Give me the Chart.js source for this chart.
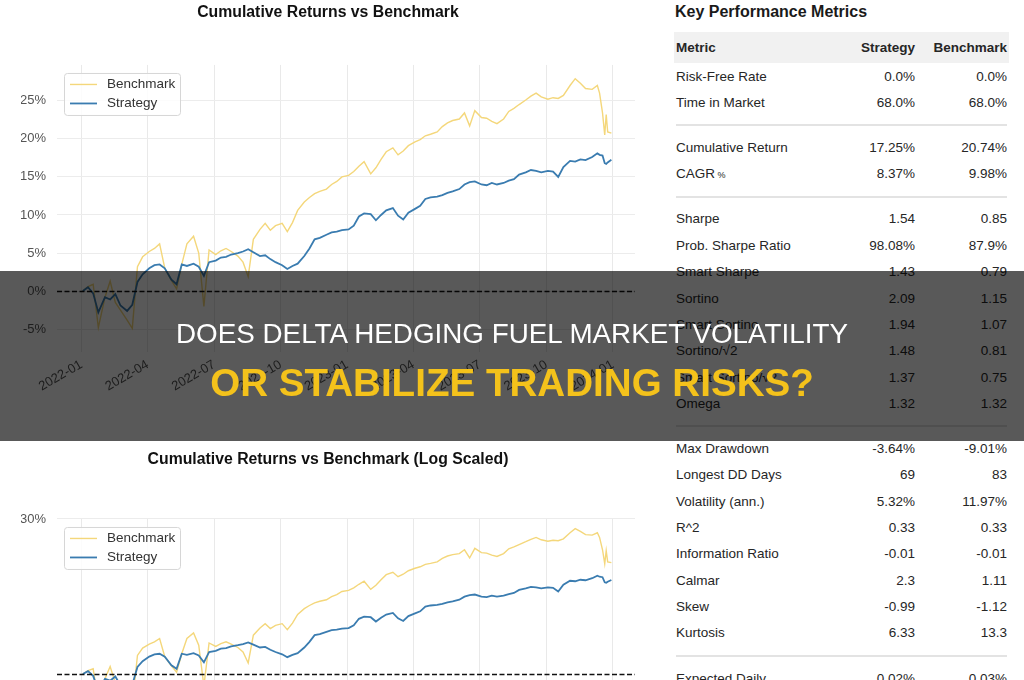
<!DOCTYPE html>
<html lang="en">
<head>
<meta charset="UTF-8">
<title>Cumulative Returns vs Benchmark</title>
<script src="https://cdn.jsdelivr.net/npm/chart.js"></script>
<style>
body {
    margin: 0;
    width: 1024px;
    height: 680px;
    overflow: hidden;
    position: relative;
    background: #fff;
    font-family: "Liberation Sans", Arial, sans-serif;
}
canvas { position: absolute; left: 21px; }
#topChart { top: 0; }
#logChart { top: 440px; }
#metrics { position: absolute; left: 674px; top: 0; width: 335px; color: #262626; font-size: 13.5px; }
#metrics h2 { margin: 0; position: absolute; left: 1px; top: 1.5px; font-size: 16px; line-height: 20px; color: #1a1a1a; }
#rows { position: absolute; left: 0; top: 32px; width: 335px; }
.row { display: flex; height: 26.35px; line-height: 26.35px; white-space: nowrap; }
.row .name { flex: 1; padding-left: 2px; }
.row .s { width: 110px; text-align: right; }
.row .b { width: 92px; text-align: right; padding-right: 2px; }
.row.head { height: 31px; line-height: 32px; background: #f1f1f1; font-weight: bold; margin-bottom: 0.5px; }
.gap { height: 18.8px; position: relative; }
.gap::after { content: ""; position: absolute; left: 2px; right: 2px; top: 8px; height: 2px; background: #e3e3e3; }
.row small { font-size: 9px; }
#band { position: absolute; left: 0; top: 271px; width: 1024px; height: 170px; background: rgba(0,0,0,0.65); z-index: 5; }
#band div { position: absolute; left: 0; width: 1024px; text-align: center; white-space: nowrap; }
#line1 { top: 48px; height: 30px; line-height: 30px; font-size: 27.8px; color: #fff; }
#line2 { top: 92px; height: 40px; line-height: 40px; font-size: 38.6px; font-weight: bold; color: #f4c21b; }
</style>
</head>
<body>

<canvas id="topChart" width="640" height="422"></canvas>
<canvas id="logChart" width="640" height="436"></canvas>

<div id="metrics">
    <h2>Key Performance Metrics</h2>
    <div id="rows"></div>
</div>

<div id="band">
    <div id="line1">DOES DELTA HEDGING FUEL MARKET VOLATILITY</div>
    <div id="line2">OR STABILIZE TRADING RISKS?</div>
</div>

<script>
// weekly observation dates (last month has a few extra points for the late drop)
const dates = [
    '2022-01-03','2022-01-10','2022-01-17','2022-01-24',
    '2022-02-03','2022-02-10','2022-02-17','2022-02-24',
    '2022-03-03','2022-03-10','2022-03-17','2022-03-24',
    '2022-04-03','2022-04-10','2022-04-17','2022-04-24',
    '2022-05-03','2022-05-10','2022-05-17','2022-05-24',
    '2022-06-03','2022-06-10','2022-06-17','2022-06-24',
    '2022-07-03','2022-07-10','2022-07-17','2022-07-24',
    '2022-08-03','2022-08-10','2022-08-17','2022-08-24',
    '2022-09-03','2022-09-10','2022-09-17','2022-09-24',
    '2022-10-03','2022-10-10','2022-10-17','2022-10-24',
    '2022-11-03','2022-11-10','2022-11-17','2022-11-24',
    '2022-12-03','2022-12-10','2022-12-17','2022-12-24',
    '2023-01-03','2023-01-10','2023-01-17','2023-01-24',
    '2023-02-03','2023-02-10','2023-02-17','2023-02-24',
    '2023-03-03','2023-03-10','2023-03-17','2023-03-24',
    '2023-04-03','2023-04-10','2023-04-17','2023-04-24',
    '2023-05-03','2023-05-10','2023-05-17','2023-05-24',
    '2023-06-03','2023-06-10','2023-06-17','2023-06-24',
    '2023-07-03','2023-07-10','2023-07-17','2023-07-24',
    '2023-08-03','2023-08-10','2023-08-17','2023-08-24',
    '2023-09-03','2023-09-10','2023-09-17','2023-09-24',
    '2023-10-03','2023-10-10','2023-10-17','2023-10-24',
    '2023-11-03','2023-11-10','2023-11-17','2023-11-24',
    '2023-12-03','2023-12-10','2023-12-13','2023-12-17','2023-12-20','2023-12-22','2023-12-24','2023-12-29'
];

// cumulative returns in %
const strategy = [
    0.0, 0.5, -0.3, -2.8,
    -0.8, -1.1, -0.4, -1.9,
    -2.6, -1.8, 1.2, 2.2,
    3.0, 3.4, 3.5, 3.0,
    1.5, 0.9, 3.5, 3.3,
    3.6, 3.2, 2.0, 3.8,
    4.0, 4.4, 4.5, 4.8,
    5.0, 5.2, 5.5, 5.1,
    4.6, 4.7, 4.2, 3.8,
    3.4, 2.9, 3.3, 3.6,
    4.6, 5.6, 6.8, 7.0,
    7.4, 7.7, 7.8, 8.0,
    8.1, 8.6, 9.8, 10.2,
    10.1, 9.3, 10.0, 10.6,
    10.9, 9.9, 9.4, 10.3,
    10.8, 11.2, 12.1, 12.3,
    12.4, 12.6, 12.9, 13.1,
    13.4, 14.0, 14.3, 14.4,
    14.0, 13.9, 14.2, 14.0,
    14.2, 14.5, 14.7, 15.3,
    15.6, 15.9, 15.8, 15.6,
    15.8, 15.7, 15.0, 16.3,
    17.1, 17.0, 17.3, 17.2,
    17.6, 18.1, 17.9, 17.8, 16.8, 16.7, 16.9, 17.25
];

const benchmark = [
    0.0, 0.6, 0.9, -4.8,
    -0.8, 1.3, -1.5, -2.5,
    -3.8, -4.9, 3.2, 4.5,
    5.2, 5.6, 6.2, 3.0,
    1.4, 0.3, 3.5, 6.2,
    7.2, 5.0, -2.0, 5.4,
    4.8, 5.3, 5.6, 5.2,
    4.6, 3.8, 1.9, 6.8,
    8.1, 8.9, 8.0, 8.6,
    8.9, 7.8, 9.0, 10.6,
    11.7, 12.3, 12.8, 13.1,
    13.4, 14.0, 14.4, 15.0,
    15.2, 15.7, 16.4, 17.0,
    15.4, 16.2, 17.3, 18.3,
    18.8, 17.9, 18.4, 19.1,
    19.6, 19.9, 20.4, 20.6,
    20.9, 21.6, 22.1, 22.4,
    22.6, 23.4, 21.7, 23.7,
    22.8, 22.7, 22.3, 22.0,
    22.6, 23.6, 24.0, 24.5,
    25.1, 25.6, 26.0, 25.5,
    25.2, 25.4, 25.3, 25.7,
    27.0, 27.9, 27.3, 26.6,
    26.5, 27.0, 26.0, 23.4, 20.5, 23.2, 20.9, 20.74
];

// x ticks = months since 2022-01, quarterly
const quarterTicks = [0, 3, 6, 9, 12, 15, 18, 21, 24];
const pctTicks = [-5, 0, 5, 10, 15, 20, 25];
const logPctTicks = [30];

const metrics = [
    [['Risk-Free Rate', '0.0%', '0.0%'], ['Time in Market', '68.0%', '68.0%']],
    [['Cumulative Return', '17.25%', '20.74%'], ['CAGR<small> %</small>', '8.37%', '9.98%']],
    [['Sharpe', '1.54', '0.85'], ['Prob. Sharpe Ratio', '98.08%', '87.9%'], ['Smart Sharpe', '1.43', '0.79'],
     ['Sortino', '2.09', '1.15'], ['Smart Sortino', '1.94', '1.07'], ['Sortino/√2', '1.48', '0.81'],
     ['Smart Sortino/√2', '1.37', '0.75'], ['Omega', '1.32', '1.32']],
    [['Max Drawdown', '-3.64%', '-9.01%'], ['Longest DD Days', '69', '83'], ['Volatility (ann.)', '5.32%', '11.97%'],
     ['R^2', '0.33', '0.33'], ['Information Ratio', '-0.01', '-0.01'], ['Calmar', '2.3', '1.11'],
     ['Skew', '-0.99', '-1.12'], ['Kurtosis', '6.33', '13.3']],
    [['Expected Daily', '0.02%', '0.03%']]
];

// metrics table
let html = '<div class="row head"><span class="name">Metric</span><span class="s">Strategy</span><span class="b">Benchmark</span></div>';
metrics.forEach((group, gi) => {
    if (gi > 0) html += '<div class="gap"></div>';
    group.forEach(r => {
        html += '<div class="row"><span class="name">' + r[0] + '</span><span class="s">' + r[1] + '</span><span class="b">' + r[2] + '</span></div>';
    });
});
document.getElementById('rows').innerHTML = html;

Chart.defaults.font.family = '"Liberation Sans", Arial, sans-serif';
Chart.defaults.font.size = 13;
Chart.defaults.color = '#555';

function monthIndex(d) {
    const [y, m, day] = d.split('-').map(Number);
    return (y - 2022) * 12 + (m - 1) + (day - 1) / 30;
}

function toPoints(values, asLog) {
    return values.map((v, i) => ({ x: monthIndex(dates[i]), y: asLog ? 1 + v / 100 : v }));
}

function monthLabel(v) {
    const y = 2022 + Math.floor(v / 12);
    const m = v % 12 + 1;
    return y + '-' + String(m).padStart(2, '0');
}

// dashed horizontal line at zero return
const zeroLine = {
    id: 'zeroLine',
    afterDatasetsDraw(chart, args, opts) {
        const { ctx, chartArea, scales } = chart;
        const y = Math.round(scales.y.getPixelForValue(opts.value)) + 0.5;
        ctx.save();
        ctx.strokeStyle = '#111';
        ctx.lineWidth = 1.5;
        ctx.setLineDash([5, 2.5]);
        ctx.beginPath();
        ctx.moveTo(chartArea.left, y);
        ctx.lineTo(chartArea.right, y);
        ctx.stroke();
        ctx.restore();
    }
};

// matplotlib-like legend box in the upper left of the plot
const legendBox = {
    id: 'legendBox',
    afterDatasetsDraw(chart) {
        const { ctx, chartArea } = chart;
        const x = chartArea.left + 7, y = chartArea.top + 8;
        ctx.save();
        ctx.fillStyle = 'rgba(255,255,255,0.85)';
        ctx.strokeStyle = '#d6d6d6';
        ctx.lineWidth = 1;
        ctx.beginPath();
        ctx.roundRect(x + 0.5, y + 0.5, 116, 42, 3);
        ctx.fill();
        ctx.stroke();
        ctx.font = '13.5px "Liberation Sans", Arial, sans-serif';
        ctx.textBaseline = 'middle';
        chart.data.datasets.forEach((ds, i) => {
            const cy = y + 11.5 + i * 19;
            ctx.strokeStyle = ds.borderColor;
            ctx.lineWidth = ds.borderWidth;
            ctx.beginPath();
            ctx.moveTo(x + 6, cy);
            ctx.lineTo(x + 33, cy);
            ctx.stroke();
            ctx.fillStyle = '#333';
            ctx.fillText(ds.label, x + 43, cy);
        });
        ctx.restore();
    }
};

function makeChart(id, title, titlePad, asLog, yOpts, yTicks) {
    return new Chart(document.getElementById(id).getContext('2d'), {
        type: 'line',
        data: {
            datasets: [{
                label: 'Benchmark',
                data: toPoints(benchmark, asLog),
                borderColor: '#f4d77b',
                borderWidth: 1.4,
                pointRadius: 0,
                order: 2
            }, {
                label: 'Strategy',
                data: toPoints(strategy, asLog),
                borderColor: '#3a7cb0',
                borderWidth: 1.8,
                pointRadius: 0,
                order: 1
            }]
        },
        options: {
            responsive: false,
            animation: false,
            layout: { padding: { left: 0, right: 26, top: 0, bottom: 0 } },
            plugins: {
                legend: { display: false },
                tooltip: { enabled: false },
                title: {
                    display: true,
                    text: title,
                    color: '#111',
                    font: { size: 15.8, weight: 'bold' },
                    padding: titlePad
                },
                zeroLine: { value: asLog ? 1 : 0 }
            },
            scales: {
                x: {
                    type: 'linear',
                    min: -1.1,
                    max: 25,
                    afterBuildTicks: s => { s.ticks = quarterTicks.map(v => ({ value: v })); },
                    afterFit: s => { s.height = 70; },
                    grid: { color: '#e9e9e9', drawTicks: false },
                    border: { display: false },
                    ticks: { autoSkip: false, minRotation: 30, maxRotation: 30, padding: 5, callback: monthLabel }
                },
                y: Object.assign({
                    afterBuildTicks: s => { s.ticks = yTicks.map(v => ({ value: asLog ? 1 + v / 100 : v })); },
                    afterFit: s => { s.width = 36; },
                    grid: { color: '#ececec', drawTicks: false },
                    border: { display: false },
                    ticks: { padding: 11, callback: v => Math.round(asLog ? (v - 1) * 100 : v) + '%' }
                }, yOpts)
            }
        },
        plugins: [zeroLine, legendBox]
    });
}

makeChart('topChart', 'Cumulative Returns vs Benchmark', { top: 3.5, bottom: 42.5 }, false,
    { type: 'linear', min: -8, max: 29.7 }, pctTicks);
makeChart('logChart', 'Cumulative Returns vs Benchmark (Log Scaled)', { top: 10.5, bottom: 49.5 }, true,
    { type: 'logarithmic', min: 0.8, max: 1.3 }, logPctTicks);
</script>

</body>
</html>
